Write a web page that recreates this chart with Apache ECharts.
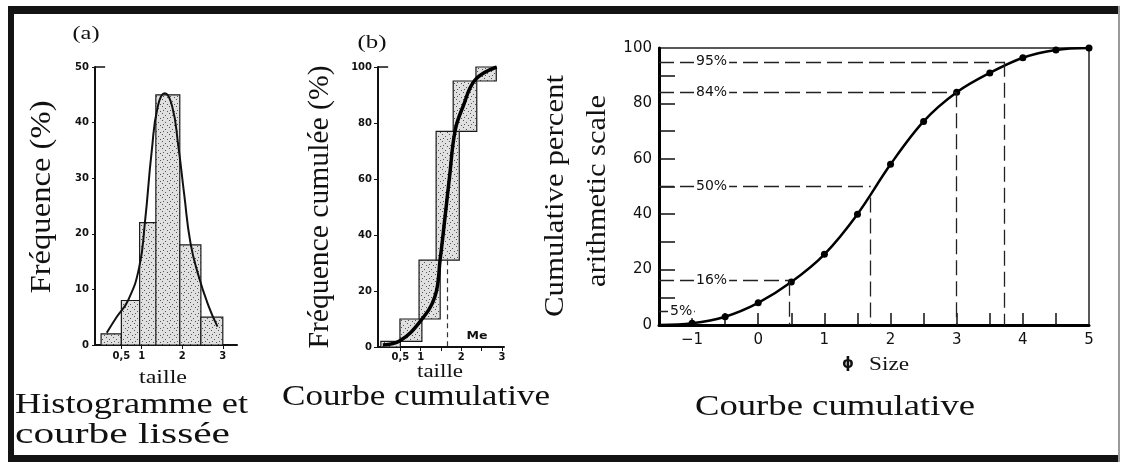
<!DOCTYPE html>
<html>
<head>
<meta charset="utf-8">
<title>Histogramme et courbes cumulatives</title>
<script src="https://cdn.jsdelivr.net/npm/echarts@6.0.0/dist/echarts.min.js"></script>
<style>
  html, body { margin: 0; padding: 0; background: #fff; }
  #chart { width: 1122px; height: 462px; }
</style>
</head>
<body>
<div id="chart"></div>
<script>
// (a) histogramme : bornes des classes (taille) et fréquence (%)
var binStartA = [0, 0.5, 0.95, 1.35, 1.94, 2.46];
var binEndA   = [0.5, 0.95, 1.42, 1.94, 2.46, 3.0];
var freqA     = [2, 8, 22, 45, 18, 5];
// (a) courbe lissée
var smoothXA = [0.14, 0.38, 0.67, 0.94, 1.08, 1.25, 1.4, 1.57, 1.75, 1.9, 2.05, 2.2, 2.4, 2.65, 2.87];
var smoothYA = [2.2, 5, 8.1, 14, 22, 35, 43, 45.3, 43, 36, 27, 18.5, 12.5, 7, 3.3];

// (b) fréquence cumulée : rectangles (bornes x, bas, haut)
var boxStartB = [0.02, 0.49, 0.96, 1.38, 1.8, 2.36];
var boxEndB   = [0.5, 1.03, 1.48, 1.95, 2.38, 2.86];
var boxLowB   = [0, 2, 10, 31, 77, 95];
var boxHighB  = [2, 10, 31, 77, 95, 100];
// (b) courbe cumulative
var cumXB = [0.07, 0.49, 0.98, 1.35, 1.48, 1.6, 1.71, 1.85, 2.04, 2.34, 2.87];
var cumYB = [0.7, 2.2, 9, 18, 31.4, 46.5, 60.8, 77.5, 85.8, 95.4, 100];
var medianB = 1.65;
var medianTopB = 31;

// (a) et (b) graduations de taille
var sizeTickValues = [0.5, 1, 2, 3];
var sizeTickText = ['0,5', '1', '2', '3'];
var sizeMinorTicksB = [0.5, 1, 1.5, 2, 2.5, 3];

// (c) courbe cumulative, échelle phi
var phiSize    = [-1.5, -1, -0.5, 0, 0.5, 1, 1.5, 2, 2.5, 3, 3.5, 4, 4.5, 5];
var cumPercent = [0, 0.6, 3, 8, 15.5, 25.5, 40, 58, 73.5, 84, 91, 96.5, 99.3, 100];
var phiLabelValues = [-1, 0, 1, 2, 3, 4, 5];
var phiTickValues = [-1, -0.5, 0, 0.5, 1, 1.5, 2, 2.5, 3, 3.5, 4, 4.5];
var percentTickValues = [10, 20, 30, 40, 50, 60, 70, 80, 90];
// percentiles
var pctLevels  = [5, 16, 50, 84, 95];
var pctLabels  = ['5%', '16%', '50%', '84%', '95%'];
var phiAtLevel = [-0.95, 0.47, 1.7, 3.0, 3.72];
var dropFrom   = [0, 16, 46, 84, 95];

// motif pointillé des barres
var stippleCanvas = document.createElement('canvas');
stippleCanvas.width = 7;
stippleCanvas.height = 7;
var sc = stippleCanvas.getContext('2d');
sc.fillStyle = '#e0e0e0';
sc.fillRect(0, 0, 7, 7);
sc.fillStyle = '#555';
sc.fillRect(1, 1, 1, 1);
sc.fillRect(4, 3, 1, 1);
sc.fillRect(2, 5, 1, 1);
sc.fillRect(6, 6, 1, 1);
var stipple = { type: 'pattern', image: stippleCanvas, repeat: 'repeat' };

var measure = document.createElement('canvas').getContext('2d');
function label(str, x, y, size, width, opt) {
  opt = opt || {};
  var family = opt.family || 'Liberation Serif';
  var weight = opt.weight || 'normal';
  measure.font = weight + ' ' + size + 'px "' + family + '"';
  var w = measure.measureText(str).width;
  return {
    type: 'text',
    x: x,
    y: y,
    rotation: opt.rot || 0,
    scaleX: width ? width / w : 1,
    silent: true,
    style: {
      text: str,
      fontSize: size,
      fontFamily: family,
      fontWeight: weight,
      fill: '#111',
      textAlign: opt.align || 'center',
      textVerticalAlign: 'middle'
    }
  };
}

function renderBarA(params, api) {
  var p0 = api.coord([api.value(0), api.value(2)]);
  var p1 = api.coord([api.value(1), 0]);
  return {
    type: 'rect',
    shape: { x: p0[0], y: p0[1], width: p1[0] - p0[0], height: p1[1] - p0[1] },
    style: { fill: stipple, stroke: '#1a1a1a', lineWidth: 1.2 }
  };
}

function renderBoxB(params, api) {
  var p0 = api.coord([api.value(0), api.value(3)]);
  var p1 = api.coord([api.value(1), api.value(2)]);
  return {
    type: 'rect',
    shape: { x: p0[0], y: p0[1], width: p1[0] - p0[0], height: p1[1] - p0[1] },
    style: { fill: stipple, stroke: '#1a1a1a', lineWidth: 1.2 }
  };
}

var barsA = binStartA.map(function (s, i) { return [s, binEndA[i], freqA[i]]; });
var boxesB = boxStartB.map(function (s, i) { return [s, boxEndB[i], boxLowB[i], boxHighB[i]]; });
var curveA = smoothXA.map(function (x, i) { return [x, smoothYA[i]]; });
var curveB = cumXB.map(function (x, i) { return [x, cumYB[i]]; });
var curveC = phiSize.map(function (x, i) {
  return i === 0 ? { value: [x, cumPercent[i]], symbolSize: 0 } : [x, cumPercent[i]];
});

var guideLines = [];
pctLevels.forEach(function (lvl, i) {
  guideLines.push([
    { name: pctLabels[i], coord: [-1.5, lvl], label: { distance: [i === 0 ? 9 : 35, 0] } },
    { coord: [phiAtLevel[i], lvl] }
  ]);
  if (i > 0) {
    guideLines.push([
      { coord: [phiAtLevel[i], dropFrom[i]], label: { show: false } },
      { coord: [phiAtLevel[i], 0] }
    ]);
  }
});

var smallTick = { fontFamily: 'DejaVu Sans', fontWeight: 'bold', fontSize: 10, color: '#111' };
function sizeFormatter(v) {
  var k = sizeTickValues.indexOf(v);
  return k >= 0 ? sizeTickText[k] : '';
}
// petit trait horizontal en haut des axes (a) et (b)
function topBracket(x0, x1, y) {
  return {
    silent: true, symbol: ['none', 'none'], animation: false,
    lineStyle: { color: '#111', type: 'solid', width: 1.5 },
    label: { show: false },
    data: [[{ coord: [x0, y] }, { coord: [x1, y] }]]
  };
}

var option = {
  animation: false,
  backgroundColor: '#fff',
  grid: [
    { left: 95, top: 67, width: 142, height: 278, outerBoundsMode: 'none' },
    { left: 378, top: 67, width: 126, height: 280, outerBoundsMode: 'none' },
    { left: 659, top: 48, width: 430, height: 277, outerBoundsMode: 'none',
      show: true, borderColor: '#222', borderWidth: 1.5 }
  ],
  xAxis: [
    {
      gridIndex: 0, type: 'value', min: -0.15, max: 3.35,
      axisLine: { show: true, onZero: false, lineStyle: { color: '#111', width: 2 } },
      axisTick: { show: true, customValues: sizeTickValues, length: 4, lineStyle: { color: '#111' } },
      axisLabel: Object.assign({ customValues: sizeTickValues, formatter: sizeFormatter, margin: 6 }, smallTick),
      splitLine: { show: false }
    },
    {
      gridIndex: 1, type: 'value', min: -0.05, max: 3.05,
      axisLine: { show: true, onZero: false, lineStyle: { color: '#111', width: 2 } },
      axisTick: { show: true, customValues: sizeMinorTicksB, length: 4, lineStyle: { color: '#111' } },
      axisLabel: Object.assign({ customValues: sizeTickValues, formatter: sizeFormatter, margin: 5 }, smallTick),
      splitLine: { show: false }
    },
    {
      gridIndex: 2, type: 'value', min: -1.5, max: 5,
      axisLine: { show: true, onZero: false, lineStyle: { color: '#000', width: 3 } },
      axisTick: { show: true, inside: true, customValues: phiTickValues, length: 12, lineStyle: { color: '#111', width: 1.5 } },
      axisLabel: {
        customValues: phiLabelValues, margin: 8, fontFamily: 'DejaVu Sans', fontSize: 15, color: '#111',
        formatter: function (v) { return String(v).replace('-', '\u2212'); }
      },
      splitLine: { show: false }
    }
  ],
  yAxis: [
    {
      gridIndex: 0, type: 'value', min: 0, max: 50, interval: 10,
      axisLine: { show: true, onZero: false, lineStyle: { color: '#111', width: 2 } },
      axisTick: { show: true, length: 3, lineStyle: { color: '#111' } },
      axisLabel: Object.assign({ margin: 6 }, smallTick),
      splitLine: { show: false }
    },
    {
      gridIndex: 1, type: 'value', min: 0, max: 100, interval: 20,
      axisLine: { show: true, onZero: false, lineStyle: { color: '#111', width: 2 } },
      axisTick: { show: true, length: 4, lineStyle: { color: '#111' } },
      axisLabel: Object.assign({ margin: 6 }, smallTick),
      splitLine: { show: false }
    },
    {
      gridIndex: 2, type: 'value', min: 0, max: 100, interval: 20,
      axisLine: { show: true, onZero: false, lineStyle: { color: '#000', width: 3 } },
      axisTick: { show: true, inside: true, customValues: percentTickValues, length: 16, lineStyle: { color: '#111', width: 1.5 } },
      axisLabel: { margin: 7, fontFamily: 'DejaVu Sans', fontSize: 15, color: '#111' },
      splitLine: { show: false }
    }
  ],
  series: [
    {
      name: 'histogramme', type: 'custom', xAxisIndex: 0, yAxisIndex: 0,
      renderItem: renderBarA, data: barsA, silent: true
    },
    {
      name: 'courbe lissée', type: 'line', xAxisIndex: 0, yAxisIndex: 0,
      data: curveA, smooth: 0.5, symbol: 'none',
      lineStyle: { color: '#111', width: 2 }, z: 3,
      markLine: topBracket(-0.15, 0.1, 50)
    },
    {
      name: 'classes cumulées', type: 'custom', xAxisIndex: 1, yAxisIndex: 1,
      renderItem: renderBoxB, data: boxesB, silent: true
    },
    {
      name: 'fréquence cumulée', type: 'line', xAxisIndex: 1, yAxisIndex: 1,
      data: curveB, smooth: 0.4, symbol: 'none',
      lineStyle: { color: '#000', width: 3.5 }, z: 3,
      markLine: {
        silent: true, symbol: ['none', 'none'], animation: false,
        lineStyle: { color: '#333', type: [5, 4], width: 1.2 },
        label: { show: false },
        data: [
          [{ coord: [medianB, medianTopB] }, { coord: [medianB, 0] }],
          [{ coord: [-0.05, 100], lineStyle: { type: 'solid', color: '#111', width: 1.5 } }, { coord: [0.2, 100] }]
        ]
      }
    },
    {
      name: 'cumulative percent', type: 'line', xAxisIndex: 2, yAxisIndex: 2,
      data: curveC, smooth: 0.35, symbol: 'circle', symbolSize: 7,
      itemStyle: { color: '#000' },
      lineStyle: { color: '#000', width: 2.5 }, z: 3,
      markLine: {
        silent: true, symbol: ['none', 'none'], animation: false,
        lineStyle: { color: '#222', type: [15, 6], width: 1.3 },
        label: {
          show: true, position: 'insideStart', formatter: '{b}',
          backgroundColor: '#fff', padding: [0, 2], color: '#111',
          fontFamily: 'DejaVu Sans', fontSize: 14
        },
        data: guideLines
      }
    }
  ],
  graphic: [
    { type: 'rect', silent: true, shape: { x: 8, y: 6, width: 1111, height: 8 }, style: { fill: '#141414' } },
    { type: 'rect', silent: true, shape: { x: 8, y: 6, width: 6, height: 456 }, style: { fill: '#141414' } },
    { type: 'rect', silent: true, shape: { x: 8, y: 455, width: 1111, height: 7 }, style: { fill: '#141414' } },
    { type: 'rect', silent: true, shape: { x: 1118, y: 6, width: 2, height: 456 }, style: { fill: '#9a9a9a' } },
    label('(a)', 86, 34, 19, 27),
    label('(b)', 372, 43, 19, 29),
    label('Fréquence (%)', 42, 197, 30, 193, { rot: Math.PI / 2 }),
    label('Fréquence cumulée (%)', 320, 207, 30, 283, { rot: Math.PI / 2 }),
    label('Cumulative percent', 556, 196, 28, 242, { rot: Math.PI / 2 }),
    label('arithmetic scale', 598, 191, 28, 192, { rot: Math.PI / 2 }),
    label('taille', 163, 378, 18, 48),
    label('taille', 440, 372, 18, 46),
    label('Histogramme et', 15, 405, 30, 233, { align: 'left' }),
    label('courbe lissée', 15, 435, 30, 215, { align: 'left' }),
    label('Courbe cumulative', 282, 397, 30, 268, { align: 'left' }),
    label('Courbe cumulative', 695, 407, 30, 280, { align: 'left' }),
    label('\u03d5', 848, 364, 15, 0, { family: 'DejaVu Sans', weight: 'bold' }),
    label('Size', 869, 365, 19, 40, { align: 'left' }),
    label('Me', 477, 336, 10, 21, { family: 'DejaVu Sans', weight: 'bold' })
  ]
};

var myChart = echarts.init(document.getElementById('chart'));
myChart.setOption(option);
</script>
</body>
</html>
